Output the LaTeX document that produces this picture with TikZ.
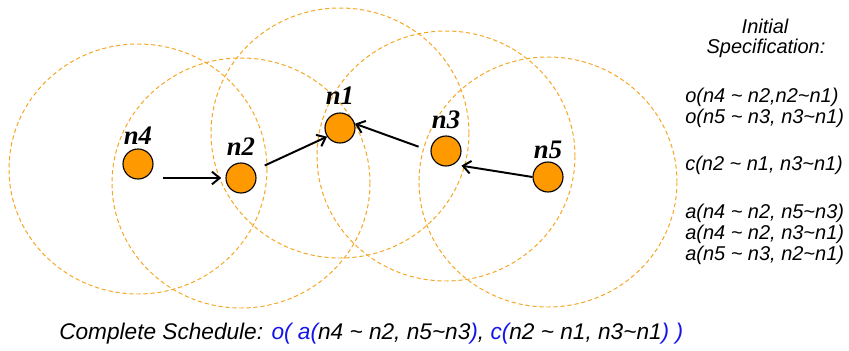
\documentclass[tikz,border=0pt]{standalone}
\usepackage{fontspec}
\setsansfont{Liberation Sans}
\newfontfamily\labelfont{Liberation Serif}
\usepackage{xcolor}
\definecolor{wsnNode}{RGB}{255, 153, 0}
\definecolor{wsnRange}{RGB}{245, 166, 35}
\definecolor{wsnBlue}{RGB}{20, 20, 235}
\usepackage{tikz}
\usetikzlibrary{
    arrows.meta,
    positioning,
    backgrounds,
    calc
}

\begin{document}
\begin{tikzpicture}[
    x=0.025cm, y=-0.025cm,
    sensorNode/.style={
        circle, draw=black, line width=0.8pt,
        fill=wsnNode, minimum size=0.75cm, inner sep=0pt
    },
    nodeLabel/.style={
        font=\labelfont\bfseries\itshape\fontsize{19}{20}\selectfont,
        text=black, inner sep=0pt
    },
    rangeCircle/.style={
        draw=wsnRange, line width=0.7pt, dash pattern=on 3pt off 2pt
    },
    routeArrow/.style={
        -{Straight Barb[length=5.5pt, width=9pt]}, line width=1.4pt, draw=black
    },
    specText/.style={
        font=\sffamily\itshape\fontsize{14.2}{14.6}\selectfont,
        text=black, inner sep=0pt
    },
    scheduleText/.style={
        font=\sffamily\itshape\fontsize{16.1}{19}\selectfont,
        text=black, inner sep=0pt
    }
]
    \useasboundingbox (0,0) rectangle (849,350);

    % Sensor nodes
    \node[sensorNode] (n4) at (138, 164) {};
    \node[sensorNode] (n2) at (241, 178) {};
    \node[sensorNode] (n1) at (340, 128) {};
    \node[sensorNode] (n3) at (446, 151) {};
    \node[sensorNode] (n5) at (548, 177) {};

    % Node names
    \node[nodeLabel, above=2.8pt of n4] (labelN4) {n4};
    \node[nodeLabel, above=4.8pt of n2] (labelN2) {n2};
    \node[nodeLabel, above=5.5pt of n1] (labelN1) {n1};
    \node[nodeLabel, above=4.8pt of n3] (labelN3) {n3};
    \node[nodeLabel, above=1.4pt of n5] (labelN5) {n5};

    % Radio ranges
    \begin{scope}[on background layer]
        \foreach \n in {n4, n2, n1, n3, n5}
            \draw[rangeCircle] ($(\n)+(0,5)$) ellipse [x radius=129, y radius=125];
    \end{scope}

    % Routes
    \draw[routeArrow, shorten >=3pt] ($(n4.east |- n2.west)+(9,0)$) -- (n2.west);
    \draw[routeArrow, shorten <=8pt] (n2.30) -- (n1.214);
    \draw[routeArrow, shorten <=9pt] (n3.west) -- (n1.16);
    \draw[routeArrow, shorten >=5.5pt] (n5.west) -- (n3.300);

    % Initial specification
    \node[specText, anchor=base] (specTitle1) at (765, 33) {Initial};
    \node[specText, anchor=base] (specTitle2) at (766, 53) {Specification:};
    \node[specText, anchor=base west] (spec1) at (685, 102.7) {o(n4 \textasciitilde{} n2,n2\textasciitilde n1)};
    \node[specText, anchor=base west] (spec2) at (685, 123) {o(n5 \textasciitilde{} n3, n3\textasciitilde n1)};
    \node[specText, anchor=base west] (spec3) at (685, 170) {c(n2 \textasciitilde{} n1, n3\textasciitilde n1)};
    \node[specText, anchor=base west] (spec4) at (685, 218) {a(n4 \textasciitilde{} n2, n5\textasciitilde n3)};
    \node[specText, anchor=base west] (spec5) at (685, 239) {a(n4 \textasciitilde{} n2, n3\textasciitilde n1)};
    \node[specText, anchor=base west] (spec6) at (685, 260) {a(n5 \textasciitilde{} n3, n2\textasciitilde n1)};

    % Complete schedule
    \node[scheduleText, anchor=base west] (schedule) at (59, 339) {Complete Schedule: \textcolor{wsnBlue}{o( a(}n4 \textasciitilde{} n2, n5\textasciitilde n3\textcolor{wsnBlue}{)}, \textcolor{wsnBlue}{c(}n2 \textasciitilde{} n1, n3\textasciitilde n1\textcolor{wsnBlue}{) )}};

\end{tikzpicture}
\end{document}
